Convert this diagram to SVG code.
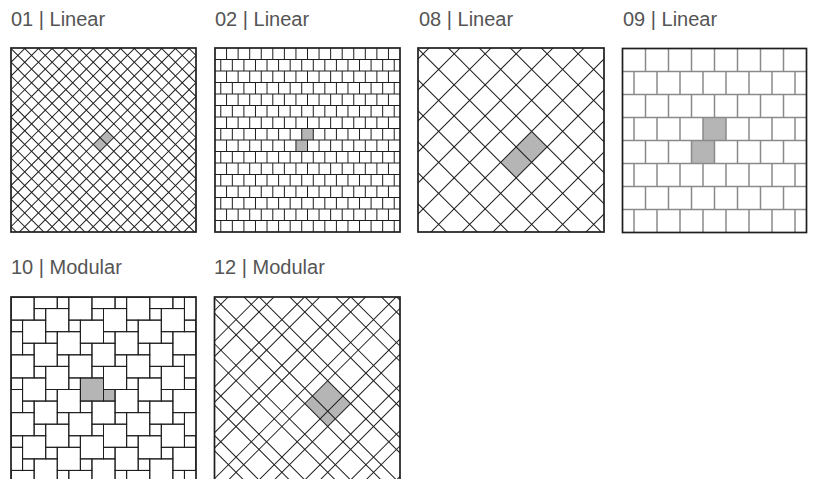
<svg xmlns="http://www.w3.org/2000/svg" width="814" height="479" viewBox="0 0 814 479">
<style>
.lbl{font-family:"Liberation Sans",Arial,sans-serif;font-size:20px;fill:#555}
.ln{fill:none;stroke:#1e1e1e;stroke-width:1}
.fr{fill:none;stroke:#1e1e1e;stroke-width:1.7}
.hl{fill:#b5b5b5}
.g9{fill:none;stroke:#8a8a8a;stroke-width:1.5}
.st{fill:none;stroke:#1e1e1e}
</style>
<defs>
<clipPath id="c1"><rect x="11" y="48" width="185" height="184"/></clipPath>
<clipPath id="c3"><rect x="418" y="48" width="186" height="184"/></clipPath>
<clipPath id="c5"><rect x="11" y="297" width="185" height="185"/></clipPath>
<clipPath id="c6"><rect x="214.5" y="297" width="185.5" height="185"/></clipPath>
<g id="pw" class="ln">
<rect x="0" y="0" width="23.125" height="23.125"/>
<rect x="11.5625" y="23.125" width="23.125" height="23.125"/>
<rect x="23.125" y="46.25" width="23.125" height="23.125"/>
<rect x="34.6875" y="11.5625" width="23.125" height="23.125"/>
<rect x="46.25" y="34.6875" width="23.125" height="23.125"/>
<rect x="23.125" y="11.5625" width="11.5625" height="11.5625"/>
<rect x="34.6875" y="34.6875" width="11.5625" height="11.5625"/>
<rect x="46.25" y="0" width="11.5625" height="11.5625"/>
<rect x="0" y="23.125" width="11.5625" height="11.5625"/>
<rect x="11.5625" y="46.25" width="11.5625" height="11.5625"/>
</g>
<g id="pwrow">
<use href="#pw" x="-57.8125"/><use href="#pw" x="0"/><use href="#pw" x="57.8125"/><use href="#pw" x="115.625"/><use href="#pw" x="173.4375"/>
</g>
</defs>
<rect width="814" height="479" fill="#fff"/>

<g id="p01">
<text class="lbl" x="11" y="26">01 | Linear</text>
<g clip-path="url(#c1)">
<g transform="translate(103.5 141) rotate(45)">
<rect class="hl" x="-4.844" y="-9.687" width="9.687" height="19.375"/>
<path class="st" d="M-140.97 0H150" stroke-width="300" stroke-dasharray="1 8.6874"/>
<path class="st" d="M0 -136.12V150" stroke-width="300" stroke-dasharray="1 8.6874"/>
</g>
</g>
<rect class="fr" x="11" y="48" width="185" height="184"/>
</g>

<g id="p02">
<text class="lbl" x="215" y="26">02 | Linear</text>
<rect class="hl" x="301.72" y="128.5" width="11.5625" height="11.5"/>
<rect class="hl" x="296" y="140" width="11.5625" height="11.5"/>
<path class="ln" d="M215 59.5H400M215 71H400M215 82.5H400M215 94H400M215 105.5H400M215 117H400M215 128.5H400M215 140H400M215 151.5H400M215 163H400M215 174.5H400M215 186H400M215 197.5H400M215 209H400M215 220.5H400"/>
<path class="ln" stroke-dasharray="11.5 11.5" d="M226.56 48V232M238.13 48V232M249.69 48V232M261.25 48V232M272.81 48V232M284.38 48V232M295.94 48V232M307.5 48V232M319.06 48V232M330.63 48V232M342.19 48V232M353.75 48V232M365.31 48V232M376.88 48V232M388.44 48V232"/>
<path class="ln" stroke-dasharray="11.5 11.5" d="M220.78 59.5V232M232.34 59.5V232M243.91 59.5V232M255.47 59.5V232M267.03 59.5V232M278.59 59.5V232M290.16 59.5V232M301.72 59.5V232M313.28 59.5V232M324.84 59.5V232M336.41 59.5V232M347.97 59.5V232M359.53 59.5V232M371.09 59.5V232M382.66 59.5V232M394.22 59.5V232"/>
<rect class="fr" x="215" y="48" width="185" height="184"/>
</g>

<g id="p08">
<text class="lbl" x="419" y="26">08 | Linear</text>
<g clip-path="url(#c3)">
<g transform="translate(516.15 146.85) rotate(45)">
<rect class="hl" x="0" y="-21.92" width="21.92" height="43.84"/>
<path class="st" d="M-153.94 0H170" stroke-width="340" stroke-dasharray="1 20.92"/>
<path class="st" d="M0 -153.94V170" stroke-width="340" stroke-dasharray="1 20.92"/>
</g>
</g>
<rect class="fr" x="418" y="48" width="186" height="184"/>
</g>

<g id="p09">
<text class="lbl" x="623" y="26">09 | Linear</text>
<rect class="hl" x="703" y="117.5" width="23" height="23"/>
<rect class="hl" x="691.5" y="140.5" width="23" height="23"/>
<path class="g9" d="M622.5 71.5H806.5M622.5 94.5H806.5M622.5 117.5H806.5M622.5 140.5H806.5M622.5 163.5H806.5M622.5 186.5H806.5M622.5 209.5H806.5"/>
<path class="g9" stroke-dasharray="23 23" d="M645.5 48.5V232.5M668.5 48.5V232.5M691.5 48.5V232.5M714.5 48.5V232.5M737.5 48.5V232.5M760.5 48.5V232.5M783.5 48.5V232.5"/>
<path class="g9" stroke-dasharray="23 23" d="M634 71.5V232.5M657 71.5V232.5M680 71.5V232.5M703 71.5V232.5M726 71.5V232.5M749 71.5V232.5M772 71.5V232.5M795 71.5V232.5"/>
<rect class="fr" x="622.5" y="48.5" width="184" height="184"/>
</g>

<g id="p10">
<text class="lbl" x="11" y="274">10 | Modular</text>
<rect class="hl" x="80.375" y="377.94" width="23.125" height="23.125"/>
<rect class="hl" x="103.5" y="389.5" width="11.5625" height="11.5625"/>
<g clip-path="url(#c5)">
<g transform="translate(11 297)">
<use href="#pwrow" y="-57.8125"/><use href="#pwrow" y="0"/><use href="#pwrow" y="57.8125"/><use href="#pwrow" y="115.625"/><use href="#pwrow" y="173.4375"/>
</g>
</g>
<rect class="fr" x="11" y="297" width="185" height="185"/>
</g>

<g id="p12">
<text class="lbl" x="214" y="274">12 | Modular</text>
<g clip-path="url(#c6)">
<g transform="translate(327.7 380.7) rotate(45)">
<rect class="hl" x="0" y="0" width="32.4" height="32.4"/>
<path class="st" d="M-162.5 0H190" stroke-width="380" stroke-dasharray="1 20.6 1 9.8"/>
<path class="st" d="M0 -162.5V190" stroke-width="380" stroke-dasharray="1 20.6 1 9.8"/>
</g>
</g>
<rect class="fr" x="214.5" y="297" width="185.5" height="185"/>
</g>
</svg>
